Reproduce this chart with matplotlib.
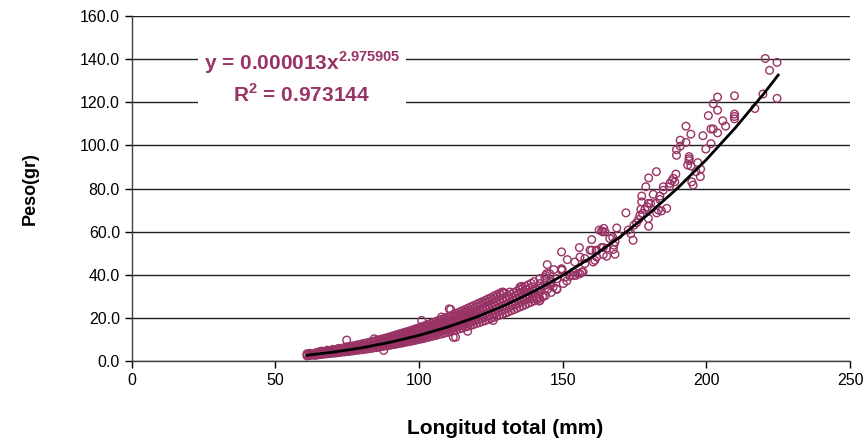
import matplotlib
matplotlib.use("Agg")
import matplotlib.pyplot as plt

plt.rcParams['font.family'] = ['Liberation Sans', 'DejaVu Sans']
plt.rcParams['mathtext.fontset'] = 'custom'
plt.rcParams['mathtext.rm'] = 'Liberation Sans'
plt.rcParams['mathtext.bf'] = 'Liberation Sans:bold'

PLUM = '#993366'

# ---- dense band of observations (length mm -> weights g) ----
band = {
    61: [2.3, 2.9, 3.4], 62: [2.5, 3.0, 3.6], 63: [2.7, 3.3], 64: [2.6, 3.2, 3.8],
    65: [2.9, 3.5, 4.2], 66: [3.0, 3.6, 4.1, 4.6], 67: [3.2, 3.8, 4.4],
    68: [3.3, 3.9, 4.5, 5.0], 69: [3.5, 4.1, 4.8], 70: [3.6, 4.2, 4.9, 5.4],
    71: [3.7, 4.4, 5.1], 72: [3.9, 4.6, 5.3, 5.9], 73: [4.1, 4.8, 5.5],
    74: [4.2, 4.9, 5.7, 6.3], 75: [4.4, 5.1, 5.9, 6.6], 76: [4.5, 5.3, 6.1, 6.8],
    77: [4.7, 5.5, 6.3, 7.0], 78: [4.9, 5.7, 6.5, 7.3], 79: [5.1, 5.9, 6.8, 7.6],
    80: [5.2, 6.1, 7.0, 7.9], 81: [5.4, 6.3, 7.3, 8.2], 82: [5.6, 6.6, 7.5, 8.5],
    83: [5.8, 6.8, 7.8, 8.8], 84: [6.0, 7.0, 8.1, 9.1], 85: [6.2, 7.3, 8.4, 9.5],
    86: [6.4, 7.5, 8.7, 9.8], 87: [6.7, 7.8, 9.0, 10.2], 88: [6.9, 8.1, 9.3, 10.5],
    89: [7.1, 8.4, 9.6, 10.9], 90: [7.3, 8.6, 10.0, 11.3], 91: [7.6, 8.9, 10.3, 11.7],
    92: [7.8, 9.2, 10.6, 12.1], 93: [8.1, 9.5, 11.0, 12.5], 94: [8.3, 9.8, 11.3, 12.9],
    95: [8.6, 10.2, 11.7, 13.3], 96: [8.9, 10.5, 12.1, 13.7], 97: [9.1, 10.8, 12.5, 14.1],
    98: [9.4, 11.1, 12.9, 14.6], 99: [9.7, 11.5, 13.3, 15.0], 100: [10.0, 11.8, 13.7, 15.5],
    101: [10.3, 12.2, 14.1, 16.0], 102: [10.6, 12.5, 14.5, 16.4], 103: [10.9, 12.9, 14.9, 16.9],
    104: [11.3, 13.3, 15.3, 17.4], 105: [11.6, 13.7, 15.8, 17.9], 106: [11.9, 14.1, 16.2, 18.4],
    107: [12.3, 14.5, 16.7, 18.9], 108: [12.6, 14.9, 17.2, 19.4], 109: [13.0, 15.3, 17.6, 19.9],
    110: [13.3, 15.7, 18.1, 20.5], 111: [13.7, 16.1, 18.6, 21.0], 112: [14.1, 16.6, 19.1, 21.6],
    113: [14.5, 17.0, 19.6, 22.1], 114: [14.9, 17.5, 20.1, 22.7], 115: [15.3, 17.9, 20.6, 23.3],
    116: [15.7, 18.4, 21.2, 23.9], 117: [16.1, 18.9, 21.7, 24.5], 118: [16.5, 19.4, 22.3, 25.1],
    119: [16.9, 19.9, 22.8, 25.7], 120: [17.4, 20.4, 23.4, 26.3], 121: [17.8, 20.9, 24.0, 26.9],
    122: [18.3, 21.4, 24.6, 27.5], 123: [18.7, 22.0, 25.2, 28.1], 124: [19.2, 22.5, 25.8, 28.8],
    125: [19.7, 23.1, 26.4, 29.4], 126: [20.2, 23.6, 27.0, 30.1], 127: [20.7, 24.2, 27.7, 30.7],
    128: [21.2, 24.8, 28.3, 31.4], 129: [21.7, 25.3, 28.9, 32.0], 130: [22.2, 25.9, 29.6],
    131: [22.7, 26.5, 30.3], 132: [23.3, 27.1, 31.0], 133: [23.8, 27.8, 31.7],
    134: [24.4, 28.4, 32.4], 135: [25.0, 29.0, 33.1], 136: [25.5, 29.7, 33.8],
    137: [26.1, 30.3, 34.6], 138: [26.7, 31.0, 35.3], 139: [27.3, 31.7, 36.0],
    140: [27.9, 32.4, 36.8], 141: [28.5, 33.1], 142: [29.1, 33.8, 38.2],
    143: [29.8, 34.5], 144: [30.4, 35.2, 39.7], 146: [31.8, 36.7], 148: [33.2, 38.2],
    85.5: [6.8, 8.0, 9.1], 86.5: [7.0, 8.2, 9.4], 87.5: [7.3, 8.5, 9.8],
    88.5: [7.5, 8.8, 10.1], 89.5: [7.8, 9.1, 10.5], 90.5: [8.0, 9.4, 10.9],
    91.5: [8.3, 9.7, 11.2], 92.5: [8.6, 10.0, 11.6], 93.5: [8.9, 10.4, 12.0],
    94.5: [9.1, 10.7, 12.4], 95.5: [9.4, 11.1, 12.8], 96.5: [9.8, 11.4, 13.2],
    97.5: [10.1, 11.8, 13.6], 98.5: [10.4, 12.2, 14.0], 99.5: [10.7, 12.5, 14.5],
    100.5: [11.0, 12.9, 14.9], 101.5: [11.4, 13.3, 15.3], 102.5: [11.7, 13.7, 15.8],
    103.5: [12.1, 14.1, 16.2], 104.5: [12.4, 14.5, 16.6], 105.5: [12.8, 14.9, 17.1],
    106.5: [13.2, 15.4, 17.6], 107.5: [13.6, 15.8, 18.1], 108.5: [14.0, 16.3, 18.6],
    109.5: [14.4, 16.7, 19.1], 110.5: [14.8, 17.2, 19.6], 111.5: [15.2, 17.6, 20.2],
    112.5: [15.6, 18.1, 20.7], 113.5: [16.0, 18.6, 21.3], 114.5: [16.5, 19.1, 21.8],
    115.5: [16.9, 19.6, 22.4], 116.5: [17.4, 20.1, 23.0], 117.5: [17.8, 20.7, 23.6],
    118.5: [18.3, 21.2, 24.1], 119.5: [18.8, 21.7, 24.7], 120.5: [19.3, 22.3, 25.4],
    121.5: [19.8, 22.9, 26.0], 122.5: [20.3, 23.4, 26.6], 123.5: [20.8, 24.0, 27.3],
    124.5: [21.3, 24.6, 27.9], 125.5: [21.9, 25.2, 28.6], 126.5: [22.4, 25.8, 29.2],
    127.5: [23.0, 26.4, 29.9], 128.5: [23.5, 27.0, 30.6], 129.5: [24.1, 27.6, 31.3],
    130.5: [24.6, 28.2], 131.5: [25.2, 28.9], 132.5: [25.8, 29.6], 133.5: [26.4, 30.2],
    134.5: [27.0, 30.9], 135.5: [27.6, 31.6], 136.5: [28.2, 32.3], 137.5: [28.8, 33.0],
    138.5: [29.4, 33.7], 139.5: [30.0, 34.4],
}
band_x = [x for x, ys in band.items() for _ in ys]
band_y = [y for ys in band.values() for y in ys]

# ---- scattered observations read individually ----
sparse_x = [220.5, 224.6, 222.0, 224.6, 219.7, 216.9, 209.8, 209.8, 209.8, 209.8,
            203.9, 202.4, 203.9, 200.7, 205.7, 206.7, 201.6, 202.4, 203.9, 192.9,
            194.6, 198.8, 190.9, 192.9, 190.9, 201.6, 199.8, 189.6, 189.6, 194.0,
            194.0, 194.0, 193.5, 194.6, 197.0, 198.0, 196.4, 197.9, 182.6, 179.9,
            189.4, 188.5, 188.0, 187.3, 189.0, 178.9, 185.0, 194.9, 195.4, 187.1,
            177.5, 177.5, 181.5, 179.8, 180.6, 182.4, 183.8, 183.8, 185.0, 177.2,
            178.6, 179.4, 183.3, 186.2, 182.7, 184.4, 172.0, 176.9, 177.8, 179.8,
            176.4, 175.7, 174.8, 179.9, 172.8, 173.7, 174.5, 168.8, 169.3, 162.7,
            163.5, 164.3, 164.7, 163.9, 166.4, 167.4, 168.2, 167.8, 160.1, 163.5,
            164.1, 161.8, 165.3, 167.6, 155.8, 160.1, 161.6, 164.1, 168.2, 165.3,
            149.6, 151.6, 154.2, 156.0, 157.7, 161.2, 161.8, 160.6, 157.7, 149.6,
            153.7, 155.4, 156.6, 154.6, 152.5, 144.6, 146.9, 149.8, 144.4, 143.8,
            145.5, 146.7, 142.1, 139.7, 140.9, 142.1, 139.2, 143.2, 147.9, 151.4,
            150.2, 153.7, 156.0, 157.1, 149.6, 111.0, 100.9, 74.8, 111.9, 112.7,
            116.9, 129.6, 135.7, 141.8, 84.4, 87.7, 110.5, 107.8, 131.6, 135.1,
            142.1, 145.5, 144.9, 150.8, 125.8, 159.5]
sparse_y = [140.3, 138.5, 134.8, 121.8, 123.8, 117.1, 123.0, 114.5, 113.4, 112.3,
            122.4, 119.3, 116.3, 113.8, 111.4, 108.9, 107.6, 107.6, 105.8, 108.9,
            105.2, 104.5, 102.4, 101.4, 99.6, 100.8, 98.3, 98.0, 95.4, 94.8,
            93.8, 92.9, 90.9, 90.4, 92.0, 89.0, 87.8, 85.5, 87.8, 84.9,
            86.7, 84.7, 83.6, 82.4, 83.1, 80.8, 80.8, 83.1, 81.6, 80.8,
            76.5, 73.8, 77.3, 73.1, 73.1, 73.1, 74.9, 76.5, 79.2, 70.3,
            70.3, 71.5, 70.0, 70.8, 68.7, 69.6, 68.7, 67.6, 68.4, 66.1,
            65.6, 64.1, 63.0, 62.5, 60.7, 59.1, 56.0, 61.7, 58.3, 60.7,
            60.3, 61.5, 59.9, 59.9, 56.8, 57.3, 55.2, 53.7, 56.3, 52.6,
            52.6, 51.4, 52.2, 51.7, 52.6, 51.4, 51.0, 49.4, 49.5, 48.6,
            50.6, 47.0, 45.9, 48.2, 47.5, 46.7, 48.2, 45.9, 45.2, 42.8,
            41.3, 40.5, 41.3, 39.7, 39.3, 44.7, 42.4, 42.4, 40.5, 38.7,
            35.9, 34.3, 32.0, 31.2, 29.6, 28.1, 28.9, 30.0, 33.5, 37.1,
            35.9, 39.7, 40.5, 41.3, 42.1, 23.9, 18.8, 9.7, 11.0, 11.0,
            13.8, 31.7, 34.6, 27.8, 10.3, 4.9, 24.2, 20.4, 32.0, 34.3,
            35.9, 40.5, 33.5, 38.9, 18.8, 51.4]

# ---- power trend line ----
trend_x = [61, 70, 80, 90, 100, 110, 120, 130, 140, 150, 160, 170, 180, 190, 200, 210, 220, 225]
trend_y = [2.7, 4.1, 6.1, 8.7, 11.9, 15.8, 20.4, 25.9, 32.3, 39.7, 48.1, 57.6, 68.3, 80.2, 93.4, 108.0, 124.0, 132.6]

y_ticks = [0, 20, 40, 60, 80, 100, 120, 140, 160]
x_ticks = [0, 50, 100, 150, 200, 250]

eq_line1 = r"y = 0.000013x$^{\mathbf{2.975905}}$"
eq_line2 = r"R$^{\mathbf{2}}$ = 0.973144"

fig = plt.figure(figsize=(8.66, 4.44), dpi=100)
ax = fig.add_axes([131.8 / 866, 1 - 361 / 444, (850 - 131.8) / 866, (361 - 16) / 444])

ax.scatter(band_x + sparse_x, band_y + sparse_y, s=30, facecolors='none',
           edgecolors=PLUM, linewidths=1.0, zorder=3)
ax.plot(trend_x, trend_y, color='black', lw=2.0, zorder=4)

ax.set_xlim(0, 250)
ax.set_ylim(0, 160)
ax.set_xticks(x_ticks)
ax.set_yticks(y_ticks)
ax.set_yticklabels([f"{v:.1f}" for v in y_ticks])
ax.tick_params(axis='both', direction='out', length=5, width=1, labelsize=11.5, colors='black')
ax.grid(axis='y', color='#202020', lw=1)
ax.set_axisbelow(True)
for s in ['top', 'right']:
    ax.spines[s].set_visible(False)
for s in ['left', 'bottom']:
    ax.spines[s].set_color('#404040')
    ax.spines[s].set_linewidth(1)

ax.set_xlabel("Longitud total (mm)", fontsize=15, fontweight='bold')
ax.xaxis.set_label_coords((505 - 131.8) / 718.2, (361 - 428) / 345)
ax.xaxis.label.set_va('center')
ax.set_ylabel("Peso(gr)", fontsize=13, fontweight='bold')
ax.yaxis.set_label_coords((30 - 131.8) / 718.2, 0.5)
ax.yaxis.label.set_va('center')

ax.text(59.2, 131.5, eq_line1 + "\n" + eq_line2, fontsize=15, fontweight='bold',
        color=PLUM, ha='center', va='center', linespacing=1.4, zorder=5,
        bbox=dict(facecolor='white', edgecolor='none', pad=4))

fig.savefig("out.png", dpi=100)
